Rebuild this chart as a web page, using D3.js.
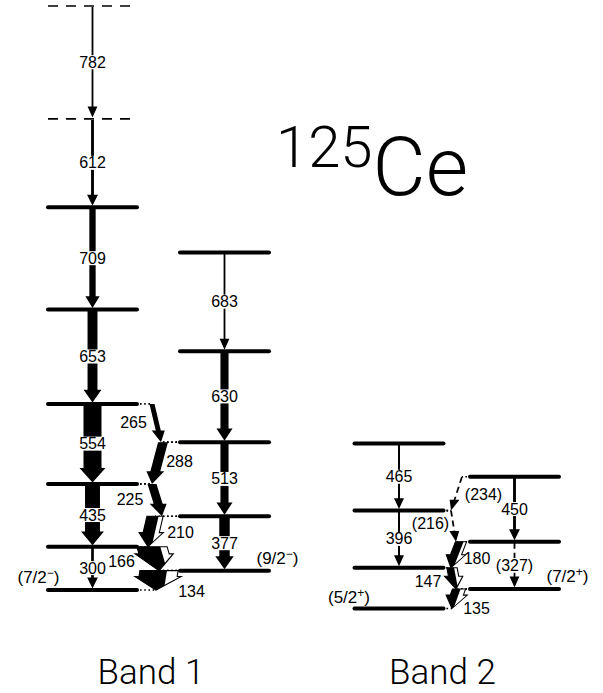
<!DOCTYPE html>
<html>
<head>
<meta charset="utf-8">
<title>125Ce level scheme</title>
<script src="https://d3js.org/d3.v7.min.js"></script>
<style>
  body { margin: 0; background: #fff; }
  svg text { font-family: "Liberation Sans", Arial, sans-serif; fill: #000; }
  .big { font-family: "Roboto", "Liberation Sans", sans-serif; font-weight: 300; }
</style>
</head>
<body>
<div id="chart"></div>
<script>
// ---- data: level energies (keV) per column ----
const columns = ["b1a", "b1b", "b2a", "b2b"];
const levelsB1a = [0, 300, 735, 1289, 1942, 2651, 3263, 4045];
const levelsB1b = [134, 511, 1024, 1654, 2337];
const levelsB2a = [0, 282, 678, 1143];
const levelsB2b = [135, 462, 912];
const tentativeLevels = [3263, 4045];       // drawn dashed (band 1 main column)
const band2Offset = -128;                   // band 2 base relative to band 1 base (keV)

// spin labels [column, level, J, parity]
const spinCol = ["b1a", "b1b", "b2a", "b2b"];
const spinLevel = [0, 134, 0, 135];
const spinJ = ["7/2", "9/2", "5/2", "7/2"];
const spinParity = ["\u2212", "\u2212", "+", "+"];

// in-band (vertical) transitions
const inLabel = ["782", "612", "709", "653", "554", "435", "300", "683", "630", "513", "377", "465", "396", "450", "(327)"];
const inCol   = ["b1a", "b1a", "b1a", "b1a", "b1a", "b1a", "b1a", "b1b", "b1b", "b1b", "b1b", "b2a", "b2a", "b2b", "b2b"];
const inFrom  = [4045, 3263, 2651, 1942, 1289, 735, 300, 2337, 1654, 1024, 511, 1143, 678, 912, 462];
const inTo    = [3263, 2651, 1942, 1289, 735, 300, 0, 1654, 1024, 511, 134, 678, 282, 462, 135];
const inInt   = [10, 16, 35, 55, 100, 83, 15, 10, 45, 45, 58, 11, 11, 16, 6];
const inTentative = ["(327)"];

// linking (cross) transitions
const crLabel   = ["265", "288", "225", "210", "166", "134", "(234)", "(216)", "180", "147", "135"];
const crFromCol = ["b1a", "b1b", "b1a", "b1b", "b1a", "b1b", "b2b", "b2a", "b2b", "b2a", "b2b"];
const crFrom    = [1289, 1024, 735, 511, 300, 134, 912, 678, 462, 282, 135];
const crToCol   = ["b1b", "b1a", "b1b", "b1a", "b1b", "b1a", "b2a", "b2b", "b2a", "b2b", "b2a"];
const crTo      = [1024, 735, 511, 300, 134, 0, 678, 462, 282, 135, 0];
const crInt     = [28, 55, 50, 65, 130, 150, 8, 8, 45, 40, 45];
const crConv    = [0, 0, 0, 25, 38, 62, 0, 0, 17, 17, 28];
const crTentative = ["(234)", "(216)"];

// ---- layout ----
const W = 603, H = 693;
const colX = d3.scaleOrdinal().domain(columns).range([92.5, 224.5, 399, 514.5]);
const levelHalf = 44.5;
const y = d3.scaleLinear().domain([0, 4045]).range([590, 6]);
const widthScale = d3.scaleLinear().domain([0, 100]).range([0, 18]);
const bandOf = c => c.startsWith("b2") ? band2Offset : 0;
const yOf = (c, e) => y(e + bandOf(c));

// x of start / tip of each cross arrow, and label offset from arrow middle
const crossLayout = {
  "265": { x: [152, 161], lab: [-23, -1] },
  "288": { x: [163, 152], lab: [22, -1.5] },
  "225": { x: [152, 162], lab: [-27, -1] },
  "210": { x: [155, 148], lab: [29, 1] },
  "166": { x: [152, 159], lab: [-34, 3] },
  "134": { x: [159, 156], lab: [34, 11] },
  "(234)": { x: [462, 451], lab: [27, 1] },
  "(216)": { x: [451, 456], lab: [-23, -3] },
  "180": { x: [461, 451], lab: [21, 4] },
  "147": { x: [452, 456], lab: [-26, 3] },
  "135": { x: [459, 452], lab: [21, 10] }
};

const svg = d3.select("#chart").append("svg")
  .attr("width", W).attr("height", H);

// levels
const levelData = [];
[levelsB1a, levelsB1b, levelsB2a, levelsB2b].forEach((lv, i) => {
  lv.forEach(e => levelData.push({ col: columns[i], e: e,
    tentative: columns[i] === "b1a" && tentativeLevels.includes(e) }));
});

svg.append("g").selectAll("line")
  .data(levelData)
  .enter().append("line")
  .attr("x1", d => colX(d.col) - levelHalf)
  .attr("x2", d => colX(d.col) + levelHalf)
  .attr("y1", d => yOf(d.col, d.e))
  .attr("y2", d => yOf(d.col, d.e))
  .attr("stroke", "#000")
  .attr("stroke-width", d => d.tentative ? 1.6 : 4)
  .attr("stroke-linecap", d => d.tentative ? "butt" : "round")
  .attr("stroke-dasharray", d => d.tentative ? "10,8" : null);

// dotted extensions from level ends to cross arrows
const dotG = svg.append("g");
crLabel.forEach((lab, i) => {
  const lay = crossLayout[lab];
  [[crFromCol[i], crFrom[i], lay.x[0]], [crToCol[i], crTo[i], lay.x[1]]].forEach(p => {
    const cx = colX(p[0]);
    const edge = p[2] > cx ? cx + levelHalf : cx - levelHalf;
    if (Math.abs(p[2] - edge) < 3) return;
    const yy = yOf(p[0], p[1]);
    dotG.append("line")
      .attr("x1", edge + (p[2] > cx ? 3 : -3)).attr("x2", p[2])
      .attr("y1", yy).attr("y2", yy)
      .attr("stroke", "#000").attr("stroke-width", 1.6)
      .attr("stroke-dasharray", "1.6,2.6");
  });
});

// arrow drawing in a skewed frame so level-side edges stay horizontal
function arrow(g, x1, y1, x2, y2, wBlack, wWhite, dashed) {
  const L = y2 - y1;
  const w = Math.max(wBlack, 1.8) + wWhite;
  const hw = Math.max(w + 8, 9) / 2;
  const hl = Math.min(10.5 + w * 0.22, L * 0.7);
  const B = L - hl;
  const skew = Math.atan((x2 - x1) / L) * 180 / Math.PI;
  const a = g.append("g")
    .attr("transform", `translate(${x1},${y1}) skewX(${skew})`);
  const line = d3.line();
  if (dashed) {
    a.append("line").attr("x1", 0).attr("x2", 0).attr("y1", 0).attr("y2", B + 1)
      .attr("stroke", "#000").attr("stroke-width", Math.max(w, 1.6))
      .attr("stroke-dasharray", "6,4");
    a.append("path").attr("d", line([[-hw, B], [hw, B], [0, L]]) + "Z")
      .attr("fill", "#000");
    return;
  }
  const outline = [[-w / 2, 0], [w / 2, 0], [w / 2, B], [hw, B], [0, L], [-hw, B], [-w / 2, B]];
  if (wWhite <= 0) {
    a.append("path").attr("d", line(outline) + "Z").attr("fill", "#000");
    return;
  }
  a.append("path").attr("d", line(outline) + "Z")
    .attr("fill", "#fff").attr("stroke", "#000").attr("stroke-width", 1.1);
  const c = -w / 2 + wBlack;
  const along = B + hl * (1 - Math.abs(c) / hw);
  const blk = [[-w / 2, 0], [c, 0], [c, along]];
  if (c >= 0) blk.push([0, L]);
  blk.push([-hw, B], [-w / 2, B]);
  a.append("path").attr("d", line(blk) + "Z").attr("fill", "#000");
}

const arrowG = svg.append("g");
const labelG = svg.append("g").attr("font-size", 16);

// in-band transitions
inLabel.forEach((lab, i) => {
  const x = colX(inCol[i]);
  const y1 = yOf(inCol[i], inFrom[i]) + 1, y2 = yOf(inCol[i], inTo[i]) - 1.5;
  const dashed = inTentative.includes(lab);
  arrow(arrowG, x, y1, x, y2, dashed ? 1.2 : widthScale(inInt[i]), 0, dashed);
  const t = labelG.append("text")
    .attr("x", x).attr("y", (y1 + y2) / 2)
    .attr("text-anchor", "middle").attr("dominant-baseline", "central")
    .text(lab);
  const bb = t.node().getBBox();
  labelG.insert("rect", "text")
    .attr("x", bb.x - 1).attr("y", bb.y + 1.5)
    .attr("width", bb.width + 2).attr("height", bb.height - 3)
    .attr("fill", "#fff");
});

// cross transitions
crLabel.forEach((lab, i) => {
  const lay = crossLayout[lab];
  const y1 = yOf(crFromCol[i], crFrom[i]), y2 = yOf(crToCol[i], crTo[i]);
  const dashed = crTentative.includes(lab);
  arrow(arrowG, lay.x[0], y1, lay.x[1], y2,
    dashed ? 1.6 : widthScale(crInt[i]), widthScale(crConv[i]), dashed);
  labelG.append("text")
    .attr("x", (lay.x[0] + lay.x[1]) / 2 + lay.lab[0])
    .attr("y", (y1 + y2) / 2 + lay.lab[1])
    .attr("text-anchor", "middle").attr("dominant-baseline", "central")
    .text(lab);
});

// spin / parity labels
const spinPos = { b1a: [-54, -13], b1b: [53, -13], b2a: [-50, -11], b2b: [53, -13] };
spinCol.forEach((c, i) => {
  const t = labelG.append("text")
    .attr("x", colX(c) + spinPos[c][0])
    .attr("y", yOf(c, spinLevel[i]) + spinPos[c][1] + 6)
    .attr("text-anchor", "middle")
    .attr("font-size", 17);
  t.append("tspan").text("(" + spinJ[i]);
  t.append("tspan").attr("font-size", 12).attr("dy", -6).text(spinParity[i]);
  t.append("tspan").attr("dy", 6).text(")");
});

// title
const title = svg.append("text").attr("class", "big").attr("x", 276).attr("y", 167);
title.append("tspan").attr("font-size", 58).text("125");
title.append("tspan").attr("font-size", 82).attr("dy", 28).text("Ce");

// band names
const bandNames = ["Band 1", "Band 2"];
const bandCenters = [151, 442.5];
svg.append("g").selectAll("text")
  .data(bandNames)
  .enter().append("text")
  .attr("class", "big")
  .attr("x", (d, i) => bandCenters[i])
  .attr("y", 684)
  .attr("text-anchor", "middle")
  .attr("font-size", 35)
  .text(d => d);
</script>
</body>
</html>
